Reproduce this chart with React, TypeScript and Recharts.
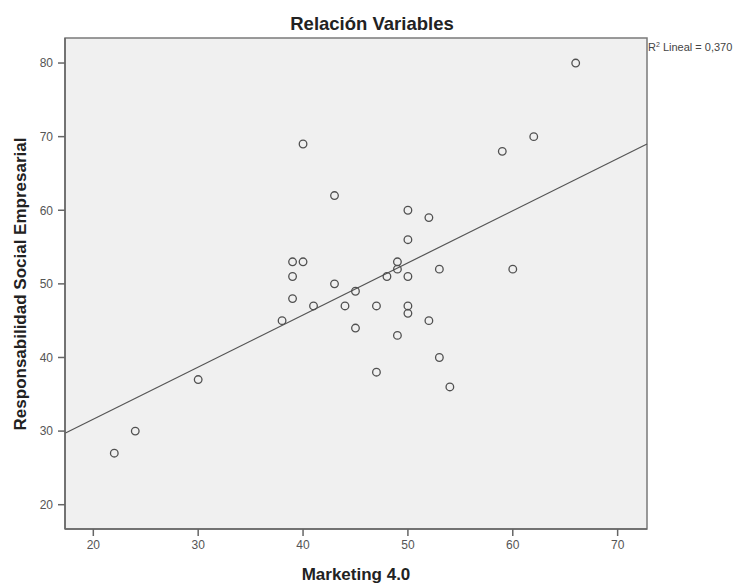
import React from "react";
import {
  ScatterChart,
  Scatter,
  XAxis,
  YAxis,
  CartesianGrid,
  ReferenceLine,
  ReferenceArea,
} from "recharts";

// Marketing 4.0 (x) and Responsabilidad Social Empresarial (y)
const marketing = [22, 24, 30, 38, 39, 39, 39, 40, 40, 41, 43, 43, 44, 45, 45, 47, 47, 48, 49, 49, 49, 50, 50, 50, 50, 50, 52, 52, 53, 53, 54, 59, 60, 62, 66];
const rse = [27, 30, 37, 45, 48, 51, 53, 53, 69, 47, 62, 50, 47, 49, 44, 47, 38, 51, 52, 53, 43, 60, 56, 51, 47, 46, 59, 45, 52, 40, 36, 68, 52, 70, 80];

const xTicks = [20, 30, 40, 50, 60, 70];
const yTicks = [20, 30, 40, 50, 60, 70, 80];
const xDomain = [17.3, 72.8];
const yDomain = [16.7, 83.4];

// Linear fit line endpoints, R² = 0,370
const fitX = [17.3, 72.8];
const fitY = [29.7, 69.0];

const title = "Relación Variables";
const xLabel = "Marketing 4.0";
const yLabel = "Responsabilidad Social Empresarial";
const r2Label = "Lineal = 0,370";

const data = marketing.map((x, i) => ({ x, y: rse[i] }));

const FONT = "Arial, 'Liberation Sans', sans-serif";

const Dot = (props: any) => {
  const { cx, cy } = props;
  if (cx == null || cy == null) return null;
  return <circle cx={cx} cy={cy} r={3.8} fill="none" stroke="#505050" strokeWidth={1.3} />;
};

export default function App() {
  return (
    <div style={{ position: "absolute", left: 0, top: 0, width: 748, height: 584, background: "#fff" }}>
      <ScatterChart
        width={748}
        height={584}
        margin={{ top: 38, right: 101, bottom: 0, left: 0 }}
        style={{ fontFamily: FONT }}
      >
        <CartesianGrid fill="#f0f0f0" stroke="none" horizontal={false} vertical={false} />
        <XAxis
          type="number"
          dataKey="x"
          domain={xDomain}
          ticks={xTicks}
          allowDataOverflow
          height={55}
          tickSize={7}
          tickMargin={4}
          axisLine={{ stroke: "#666", strokeWidth: 1.5 }}
          tickLine={{ stroke: "#666", strokeWidth: 1.5 }}
          tick={{ fill: "#555", fontSize: 12, fontFamily: FONT }}
        />
        <YAxis
          type="number"
          dataKey="y"
          domain={yDomain}
          ticks={yTicks}
          allowDataOverflow
          width={65}
          tickSize={7}
          tickMargin={5}
          axisLine={{ stroke: "#666", strokeWidth: 1.5 }}
          tickLine={{ stroke: "#666", strokeWidth: 1.5 }}
          tick={{ fill: "#555", fontSize: 12, fontFamily: FONT }}
        />
        <ReferenceArea
          x1={xDomain[0]}
          x2={xDomain[1]}
          y1={yDomain[0]}
          y2={yDomain[1]}
          fill="none"
          stroke="#7a7a7a"
          strokeWidth={1.5}
          ifOverflow="visible"
        />
        <ReferenceLine
          segment={[
            { x: fitX[0], y: fitY[0] },
            { x: fitX[1], y: fitY[1] },
          ]}
          stroke="#555"
          strokeWidth={1.2}
          ifOverflow="visible"
        />
        <Scatter data={data} shape={Dot} isAnimationActive={false} />
      </ScatterChart>
      <svg
        width={748}
        height={584}
        style={{ position: "absolute", left: 0, top: 0, pointerEvents: "none" }}
      >
        <text x={372} y={30} textAnchor="middle" fontFamily={FONT} fontWeight="bold" fontSize={18.5} fill="#222">
          {title}
        </text>
        <text x={356} y={580} textAnchor="middle" fontFamily={FONT} fontWeight="bold" fontSize={17} fill="#222">
          {xLabel}
        </text>
        <text
          x={0}
          y={0}
          transform="translate(26 284) rotate(-90)"
          textAnchor="middle"
          fontFamily={FONT}
          fontWeight="bold"
          fontSize={17}
          fill="#222"
        >
          {yLabel}
        </text>
        <text x={648} y={51} fontFamily={FONT} fontSize={11} fill="#444">
          R<tspan dy={-4} fontSize={7}>2</tspan>
          <tspan dy={4}> {r2Label}</tspan>
        </text>
      </svg>
    </div>
  );
}
